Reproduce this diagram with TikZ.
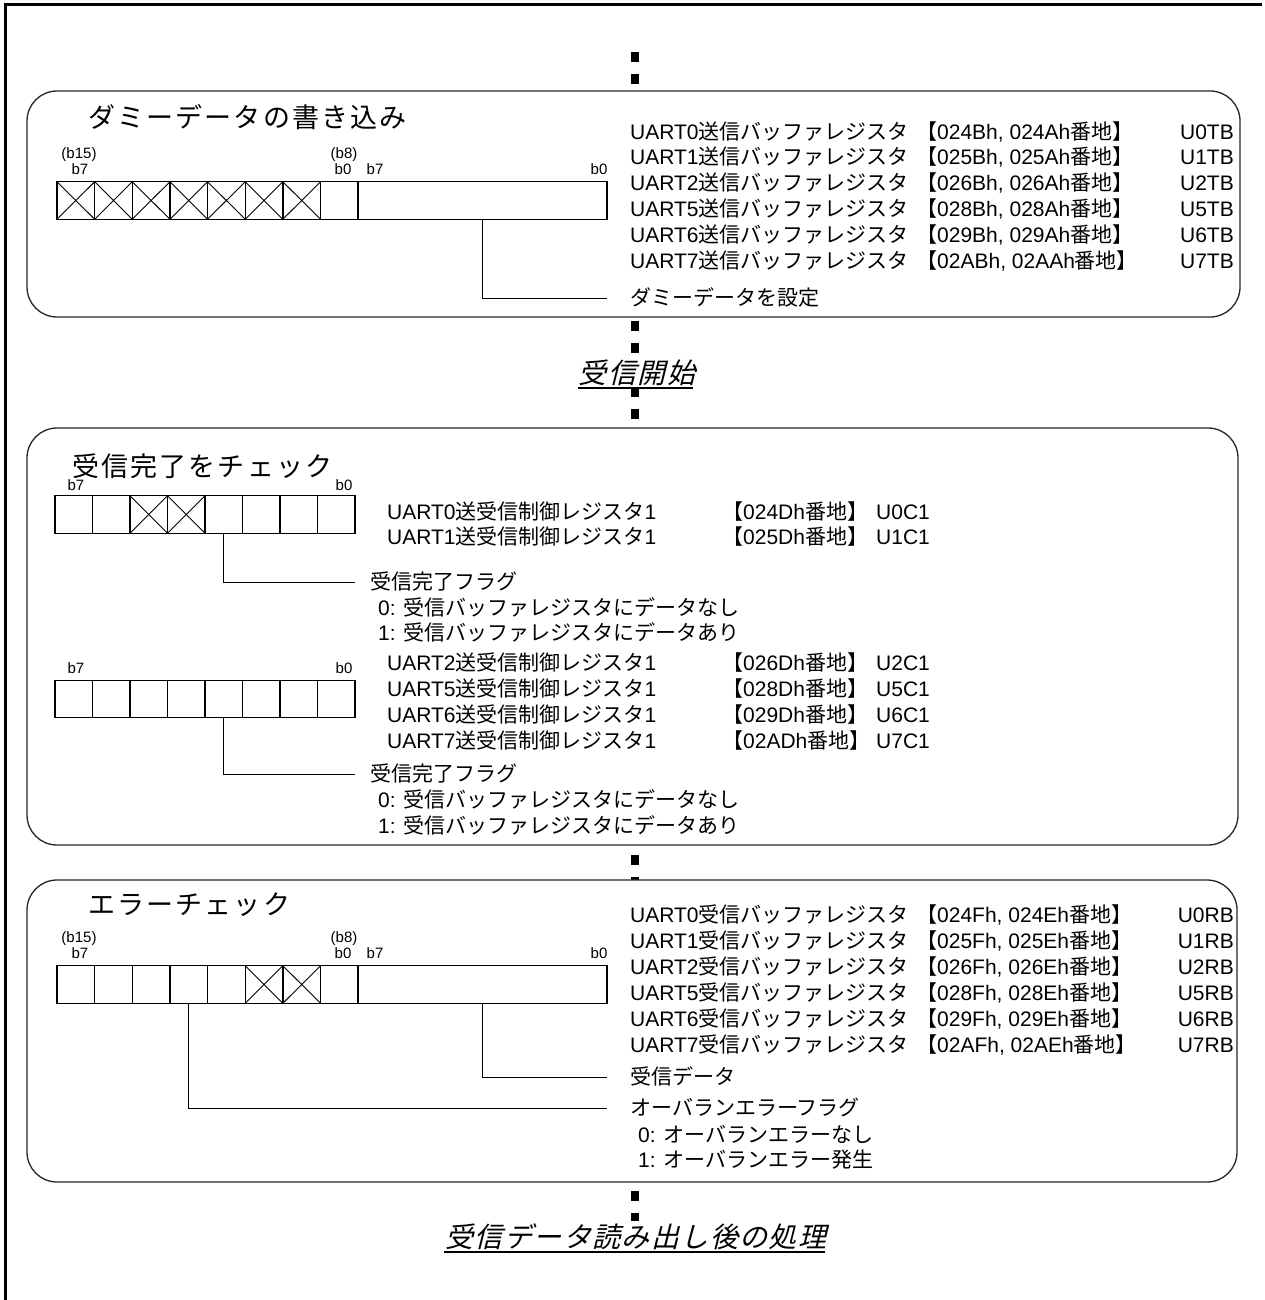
\documentclass[tikz,border=0pt]{standalone}
\usepackage{fontspec}
\setmainfont{Liberation Sans}
\newfontfamily\jp{Noto Sans CJK JP}
\newfontfamily\jpt[LetterSpace=8]{Noto Sans CJK JP}
\newfontfamily\jpi[LetterSpace=5,FakeSlant=0.25]{Noto Sans CJK JP}
\newcommand\J[1]{{\jp #1}}
\pgfdeclarelayer{bg}
\pgfsetlayers{bg,main}
\tikzset{
  frame/.style={line width=3pt},
  panel/.style={draw=black!85, line width=1.3pt, fill=white, rounded corners=30pt, inner sep=0pt, outer sep=0pt},
  cell/.style={draw, line width=1.4pt, inner sep=0pt, outer sep=0pt, minimum height=37.5pt},
  xline/.style={line width=0.9pt},
  leader/.style={line width=1pt},
  txt/.style={anchor=west, inner sep=0pt, font=\fontsize{21}{25}\selectfont, text height=15pt, text depth=0pt},
  bit/.style={inner sep=0pt, font=\fontsize{15}{17}\selectfont},
  ttl/.style={anchor=west, inner sep=0pt, font=\jpt\fontsize{27}{31}\selectfont},
  ital/.style={inner xsep=2pt, inner ysep=3pt, fill=white, font=\jpi\fontsize{28}{32}\selectfont},
  dots/.style={line width=8pt, dash pattern=on 10pt off 12pt},
  uline/.style={line width=2pt}
}
\newcommand\regline[7]{%
  \node[txt] (#1a) at (#3,#2) {UART#5};
  \node[txt] (#1b) at (#4,#2) {\J{【}#6\J{番地】}};
  \node[txt,anchor=east] (#1c) at (1234,#2) {#7};}
\begin{document}
\begin{tikzpicture}[x=1pt,y=-1pt]
\useasboundingbox (0,0) rectangle (1265,1300);
% outer frame
\draw[frame] (5,1300) -- (5,5) -- (1262,5);

% panels
\node[panel, minimum width=1213pt, minimum height=226pt] (p1) at (633.5,204) {};
\node[panel, minimum width=1211pt, minimum height=417pt] (p2) at (632.5,636.5) {};
\node[panel, minimum width=1210pt, minimum height=302pt] (p3) at (632,1031) {};

% step labels
\node[ital] (lb1) at (637,373) {受信開始};
\draw[uline] ([xshift=1pt,yshift=-4.5pt]lb1.base west) -- ([xshift=-4pt,yshift=-4.5pt]lb1.base east);
\node[ital] (lb2) at (636,1237) {受信データ読み出し後の処理};
\draw[uline] ([xshift=1pt,yshift=-4.5pt]lb2.base west) -- ([xshift=-4pt,yshift=-4.5pt]lb2.base east);

% dotted flow line
\coordinate (d0) at (635,52);
\begin{pgfonlayer}{bg}
\draw[dots] (d0) -- (d0 |- p1.north);
\draw[dots, shorten <=4pt, shorten >=9pt] (d0 |- p1.south) -- (d0 |- p2.north);
\draw[dots, shorten <=10pt] (d0 |- p2.south) -- (d0 |- p3.north);
\draw[dots, shorten <=9pt] (d0 |- p3.south) -- (d0 |- lb2.center);
\end{pgfonlayer}

% ===== Panel 1 =====
\node[ttl] (h1) at (88,117) {ダミーデータの書き込み};
\node[bit] (l1a) at (79,155) {(b15)};
\node[bit] (l1b) at (80,169) {b7};
\node[bit] (l1c) at (344,155) {(b8)};
\node[bit] (l1d) at (343,169) {b0};
\node[bit] (l1e) at (375,169) {b7};
\node[bit] (l1f) at (599,169) {b0};
\foreach \i in {0,...,7} {\node[cell, minimum width=37.64pt] (a\i) at ({57+37.64*(\i+0.5)},200.5) {};}
\node[cell, minimum width=248.9pt] (aL) at (482.55,200.5) {};
\foreach \i in {0,...,6} {\draw[xline] (a\i.north west) -- (a\i.south east) (a\i.north east) -- (a\i.south west);}
\regline{ta}{132}{630}{916}{0\J{送信バッファレジスタ}}{024Bh, 024Ah}{U0TB}
\regline{tb}{157}{630}{916}{1\J{送信バッファレジスタ}}{025Bh, 025Ah}{U1TB}
\regline{tc}{183}{630}{916}{2\J{送信バッファレジスタ}}{026Bh, 026Ah}{U2TB}
\regline{td}{209}{630}{916}{5\J{送信バッファレジスタ}}{028Bh, 028Ah}{U5TB}
\regline{te}{235}{630}{916}{6\J{送信バッファレジスタ}}{029Bh, 029Ah}{U6TB}
\regline{tf}{261}{630}{916}{7\J{送信バッファレジスタ}}{02ABh, 02AAh}{U7TB}
\node[txt] (s1) at (630,298) {\J{ダミーデータを設定}};
\draw[leader] (aL.south) |- ([xshift=-23pt]s1.west);

% ===== Panel 2 =====
\node[ttl] (h2) at (72,466) {受信完了をチェック};
\node[bit] (l2a) at (76,485) {b7};
\node[bit] (l2b) at (344,485) {b0};
\foreach \i in {0,...,7} {\node[cell, minimum width=37.5pt] (b\i) at ({55+37.5*(\i+0.5)},514.5) {};}
\foreach \i in {2,3} {\draw[xline] (b\i.north west) -- (b\i.south east) (b\i.north east) -- (b\i.south west);}
\node[txt] (u0a) at (387,512) {UART0\J{送受信制御レジスタ}1};
\node[txt] (u0b) at (722,512) {\J{【}024Dh\J{番地】}};
\node[txt] (u0c) at (876,512) {U0C1};
\node[txt] (u1a) at (387,537) {UART1\J{送受信制御レジスタ}1};
\node[txt] (u1b) at (722,537) {\J{【}025Dh\J{番地】}};
\node[txt] (u1c) at (876,537) {U1C1};
\node[txt] (f1) at (370,582) {\J{受信完了フラグ}};
\node[txt] (f1a) at (378,608) {0: \J{受信バッファレジスタにデータなし}};
\node[txt] (f1b) at (378,633) {1: \J{受信バッファレジスタにデータあり}};
\draw[leader] (b4.south) |- ([xshift=-15pt]f1.west);

\node[bit] (l2c) at (76,668) {b7};
\node[bit] (l2d) at (344,668) {b0};
\foreach \i in {0,...,7} {\node[cell, minimum width=37.5pt] (e\i) at ({55+37.5*(\i+0.5)},699) {};}
\node[txt] (u2a) at (387,663) {UART2\J{送受信制御レジスタ}1};
\node[txt] (u2b) at (722,663) {\J{【}026Dh\J{番地】}};
\node[txt] (u2c) at (876,663) {U2C1};
\node[txt] (u5a) at (387,689) {UART5\J{送受信制御レジスタ}1};
\node[txt] (u5b) at (722,689) {\J{【}028Dh\J{番地】}};
\node[txt] (u5c) at (876,689) {U5C1};
\node[txt] (u6a) at (387,715) {UART6\J{送受信制御レジスタ}1};
\node[txt] (u6b) at (722,715) {\J{【}029Dh\J{番地】}};
\node[txt] (u6c) at (876,715) {U6C1};
\node[txt] (u7a) at (387,741) {UART7\J{送受信制御レジスタ}1};
\node[txt] (u7b) at (722,741) {\J{【}02ADh\J{番地】}};
\node[txt] (u7c) at (876,741) {U7C1};
\node[txt] (f2) at (370,774) {\J{受信完了フラグ}};
\node[txt] (f2a) at (378,800) {0: \J{受信バッファレジスタにデータなし}};
\node[txt] (f2b) at (378,826) {1: \J{受信バッファレジスタにデータあり}};
\draw[leader] (e4.south) |- ([xshift=-15pt]f2.west);

% ===== Panel 3 =====
\node[ttl] (h3) at (88,905) {エラーチェック};
\node[bit] (l3a) at (79,939) {(b15)};
\node[bit] (l3b) at (80,953) {b7};
\node[bit] (l3c) at (344,939) {(b8)};
\node[bit] (l3d) at (343,953) {b0};
\node[bit] (l3e) at (375,953) {b7};
\node[bit] (l3f) at (599,953) {b0};
\foreach \i in {0,...,7} {\node[cell, minimum width=37.64pt] (c\i) at ({57+37.64*(\i+0.5)},984.5) {};}
\node[cell, minimum width=248.9pt] (cL) at (482.55,984.5) {};
\foreach \i in {5,6} {\draw[xline] (c\i.north west) -- (c\i.south east) (c\i.north east) -- (c\i.south west);}
\regline{ra}{915}{630}{916}{0\J{受信バッファレジスタ}}{024Fh, 024Eh}{U0RB}
\regline{rb}{941}{630}{916}{1\J{受信バッファレジスタ}}{025Fh, 025Eh}{U1RB}
\regline{rc}{967}{630}{916}{2\J{受信バッファレジスタ}}{026Fh, 026Eh}{U2RB}
\regline{rd}{993}{630}{916}{5\J{受信バッファレジスタ}}{028Fh, 028Eh}{U5RB}
\regline{re}{1019}{630}{916}{6\J{受信バッファレジスタ}}{029Fh, 029Eh}{U6RB}
\regline{rf}{1045}{630}{916}{7\J{受信バッファレジスタ}}{02AFh, 02AEh}{U7RB}
\node[txt] (g1) at (630,1077) {\J{受信データ}};
\node[txt] (g2) at (630,1108) {\J{オーバランエラーフラグ}};
\node[txt] (g2a) at (638,1135) {0: \J{オーバランエラーなし}};
\node[txt] (g2b) at (638,1160) {1: \J{オーバランエラー発生}};
\draw[leader] (cL.south) |- ([xshift=-23pt]g1.west);
\draw[leader] (c3.south) |- ([xshift=-23pt]g2.west);
\end{tikzpicture}
\end{document}
